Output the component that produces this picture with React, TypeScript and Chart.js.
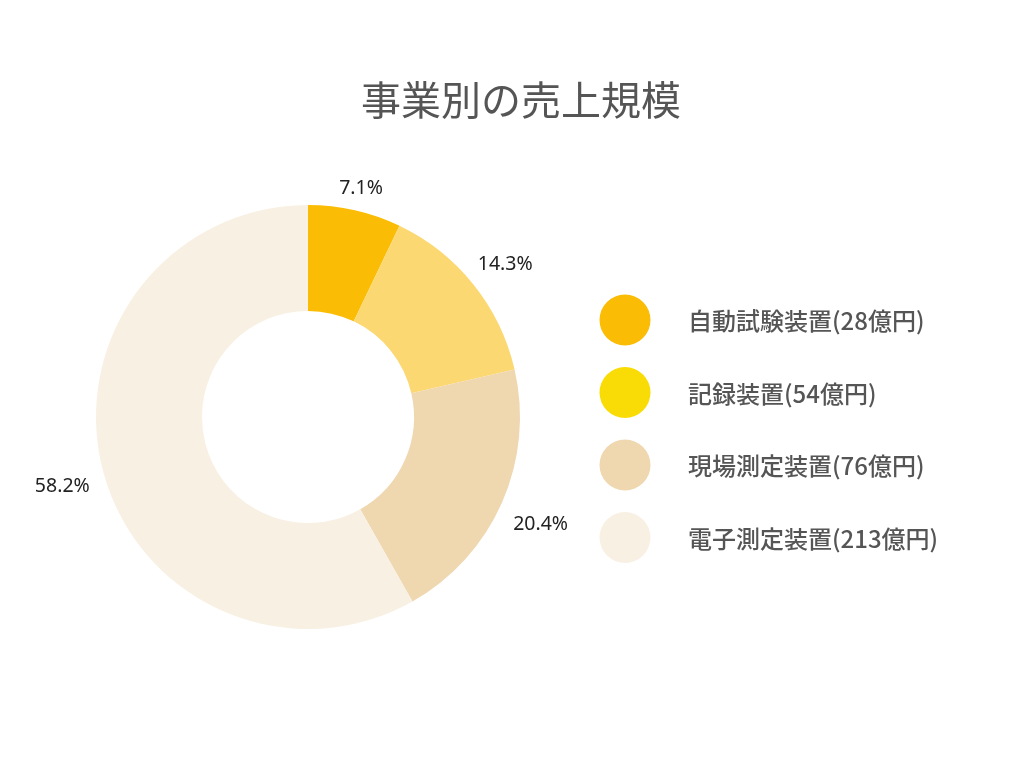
import React, { useEffect, useRef } from "react";
import { Chart, registerables } from "chart.js";

Chart.register(...registerables);

const titleText = "事業別の売上規模";
const categories = [
  "自動試験装置(28億円)",
  "記録装置(54億円)",
  "現場測定装置(76億円)",
  "電子測定装置(213億円)",
];
const shares = [7.1, 14.3, 20.4, 58.2];
const sliceColors = ["#FBBC05", "#FCD873", "#EFD7B0", "#F8F0E3"];
const legendColors = ["#FBBC05", "#F9DC06", "#EFD7B0", "#F8F0E3"];

const CJK = "'Noto Sans CJK JP', 'Noto Sans', sans-serif";

const decorPlugin = {
  id: "decor",
  afterDraw(chart: any) {
    const ctx = chart.ctx as CanvasRenderingContext2D;
    const W = chart.width;
    ctx.save();
    // Title
    ctx.fillStyle = "#555555";
    ctx.font = `400 40px ${CJK}`;
    ctx.textAlign = "center";
    ctx.textBaseline = "middle";
    ctx.fillText(titleText, W / 2 + 9, 100);

    // Legend
    const lx = 625;
    const ly0 = 320;
    const step = 72.5;
    ctx.font = `500 24px ${CJK}`;
    ctx.textAlign = "left";
    categories.forEach((label, i) => {
      const cy = ly0 + i * step;
      ctx.beginPath();
      ctx.fillStyle = legendColors[i];
      ctx.arc(lx, cy, 25.5, 0, Math.PI * 2);
      ctx.fill();
      ctx.fillStyle = "#555555";
      ctx.fillText(label, 688, cy + 1);
    });

    // Percentage labels outside slices
    const meta = chart.getDatasetMeta(0);
    ctx.font = "400 19.5px 'Noto Sans', sans-serif";
    ctx.fillStyle = "#222222";
    ctx.textAlign = "center";
    ctx.textBaseline = "middle";
    meta.data.forEach((arc: any, i: number) => {
      const p = arc.getProps(["x", "y", "startAngle", "endAngle", "outerRadius"], true);
      const mid = (p.startAngle + p.endAngle) / 2;
      const text = shares[i].toFixed(1) + "%";
      const hw = ctx.measureText(text).width / 2;
      const hh = 10;
      const cos = Math.cos(mid);
      const sin = Math.sin(mid);
      const d = p.outerRadius + 13 + hw * Math.abs(cos) + hh * Math.abs(sin);
      ctx.fillText(text, p.x + cos * d, p.y + sin * d + 5);
    });
    ctx.restore();
  },
};

export default function App() {
  const ref = useRef<HTMLCanvasElement | null>(null);
  useEffect(() => {
    if (!ref.current) return;
    const chart = new Chart(ref.current, {
      type: "doughnut",
      data: {
        labels: categories,
        datasets: [
          {
            data: shares,
            backgroundColor: sliceColors,
            borderWidth: 0,
          },
        ],
      },
      options: {
        responsive: false,
        animation: false,
        cutout: "50%",
        layout: { padding: { top: 205, bottom: 139, left: 96, right: 504 } },
        plugins: {
          legend: { display: false },
          title: { display: false },
          tooltip: { enabled: false },
        },
      },
      plugins: [decorPlugin],
    });
    return () => chart.destroy();
  }, []);
  return (
    <div style={{ position: "absolute", left: 0, top: 0, width: 1024, height: 768, background: "#fff" }}>
      <canvas ref={ref} width={1024} height={768} style={{ display: "block" }} />
    </div>
  );
}
